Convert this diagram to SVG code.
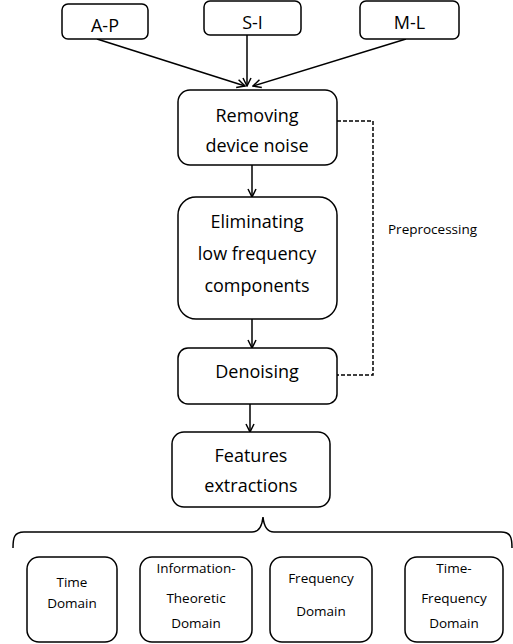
<svg xmlns="http://www.w3.org/2000/svg" width="513" height="644" viewBox="0 0 513 644">
<defs>
<marker id="arr" viewBox="0 0 10 10" refX="9" refY="5" markerWidth="10" markerHeight="10" markerUnits="userSpaceOnUse" orient="auto">
<path d="M1,1 L9,5 L1,9" fill="none" stroke="#000" stroke-width="1.5"/>
</marker>
</defs>
<style>
.box{fill:#fff;stroke:#000;stroke-width:1.5}
.t{font-family:"Open Sans","Liberation Sans",sans-serif;font-size:18px;text-anchor:middle;fill:#000}
.s{font-family:"Open Sans","Liberation Sans",sans-serif;font-size:13.5px;text-anchor:middle;fill:#000}
.c{fill:none;stroke:#000;stroke-width:1.5}
</style>
<rect width="513" height="644" fill="#fff"/>
<g id="connectors">
<line class="c" x1="97" y1="39" x2="245" y2="86" marker-end="url(#arr)"/>
<line class="c" x1="247" y1="35" x2="247" y2="86" marker-end="url(#arr)"/>
<line class="c" x1="406" y1="39" x2="253" y2="86" marker-end="url(#arr)"/>
<line class="c" x1="252" y1="165" x2="252" y2="197" marker-end="url(#arr)"/>
<line class="c" x1="252" y1="319" x2="252" y2="348" marker-end="url(#arr)"/>
<line class="c" x1="250" y1="404" x2="250" y2="432" marker-end="url(#arr)"/>
<path class="c" d="M337,121 H373 V375 H337" stroke-dasharray="4,2"/>
<path class="c" d="M13,548 C13,538 14,532 24,532 H252 C259,532 262,527 263,517 C264,527 267,532 274,532 H501 C511,532 512,538 512,548"/>
</g>
<g id="ap"><rect class="box" x="62" y="4" width="86" height="35" rx="6"/><text class="t" x="105" y="32">A-P</text></g>
<g id="si"><rect class="box" x="204" y="1" width="97" height="34" rx="6"/><text class="t" x="252.5" y="29">S-I</text></g>
<g id="ml"><rect class="box" x="360" y="1" width="99" height="38" rx="6"/><text class="t" x="409.5" y="29">M-L</text></g>
<g id="removing"><rect class="box" x="178" y="90" width="159" height="75" rx="12"/><text class="t" x="257" y="122">Removing</text><text class="t" x="257" y="152">device noise</text></g>
<g id="eliminating"><rect class="box" x="178" y="197" width="159" height="122" rx="18"/><text class="t" x="257" y="228">Eliminating</text><text class="t" x="257" y="260">low frequency</text><text class="t" x="257" y="292">components</text></g>
<g id="denoising"><rect class="box" x="178" y="348" width="159" height="56" rx="10"/><text class="t" x="257" y="378">Denoising</text></g>
<g id="features"><rect class="box" x="172" y="432" width="158" height="75" rx="12"/><text class="t" x="251" y="462">Features</text><text class="t" x="251" y="492">extractions</text></g>
<text class="s" x="388" y="234" style="text-anchor:start">Preprocessing</text>
<g id="time"><rect class="box" x="27" y="557" width="90" height="85" rx="12"/><text class="s" x="72" y="587">Time</text><text class="s" x="72" y="608">Domain</text></g>
<g id="info"><rect class="box" x="140" y="557" width="112" height="85" rx="12"/><text class="s" x="196" y="573">Information-</text><text class="s" x="196" y="603">Theoretic</text><text class="s" x="196" y="628">Domain</text></g>
<g id="freq"><rect class="box" x="270" y="557" width="102" height="85" rx="12"/><text class="s" x="321" y="583">Frequency</text><text class="s" x="321" y="616">Domain</text></g>
<g id="tf"><rect class="box" x="405" y="557" width="98" height="85" rx="12"/><text class="s" x="454" y="573">Time-</text><text class="s" x="454" y="603">Frequency</text><text class="s" x="454" y="628">Domain</text></g>
</svg>
